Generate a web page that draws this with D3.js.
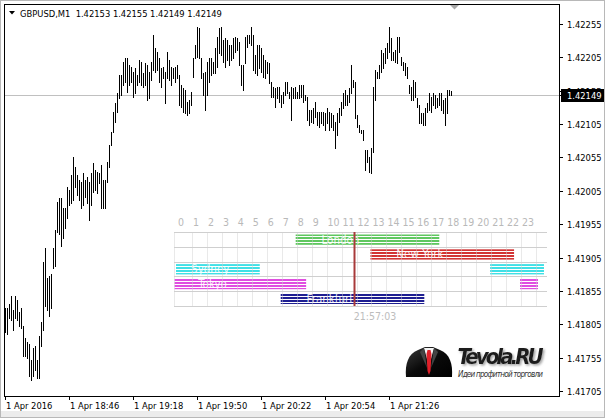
<!DOCTYPE html>
<html><head><meta charset="utf-8">
<script src="https://cdn.jsdelivr.net/npm/d3@7"></script>
<style>
html,body{margin:0;padding:0;background:#fff;}
svg{display:block;}
text{font-family:"DejaVu Sans Condensed","DejaVu Sans",sans-serif;}
</style></head><body>
<svg id="c" width="605" height="418"></svg>
<script>
// ---------------- DATA ----------------
const symbol = "GBPUSD,M1";
const lastOHLC = [1.42153, 1.42155, 1.42149, 1.42149];
const bid = 1.42149;
const highs = [
1.41829,1.41829,1.41836,1.41848,1.41826,1.41848,1.41841,1.41823,1.41829,1.41803,
1.41784,1.41778,1.41776,1.41751,1.41770,1.41773,1.41751,1.41788,1.41808,1.41898,
1.41920,1.41875,1.41878,1.41881,1.41920,1.41946,1.41988,1.41994,1.41994,1.41980,
1.41980,1.42010,1.42006,1.42028,1.42055,1.42040,1.42028,1.42021,1.42018,1.42031,
1.42021,1.42025,1.42018,1.42031,1.42046,1.42036,1.42033,1.42031,1.42043,1.42021,
1.42021,1.42048,1.42073,1.42093,1.42123,1.42136,1.42151,1.42178,1.42178,1.42198,
1.42204,1.42204,1.42193,1.42190,1.42183,1.42189,1.42178,1.42201,1.42198,1.42181,
1.42196,1.42193,1.42183,1.42198,1.42238,1.42219,1.42213,1.42204,1.42189,1.42190,
1.42183,1.42213,1.42201,1.42190,1.42189,1.42190,1.42193,1.42178,1.42163,1.42159,
1.42156,1.42138,1.42141,1.42153,1.42204,1.42223,1.42250,1.42249,1.42204,1.42181,
1.42183,1.42198,1.42204,1.42204,1.42198,1.42219,1.42235,1.42249,1.42250,1.42231,
1.42234,1.42231,1.42223,1.42223,1.42234,1.42235,1.42234,1.42228,1.42193,1.42193,
1.42235,1.42238,1.42238,1.42250,1.42238,1.42208,1.42223,1.42223,1.42219,1.42208,
1.42201,1.42198,1.42196,1.42168,1.42160,1.42159,1.42160,1.42160,1.42148,1.42153,
1.42168,1.42168,1.42153,1.42160,1.42159,1.42160,1.42153,1.42163,1.42163,1.42163,
1.42148,1.42145,1.42126,1.42126,1.42129,1.42138,1.42123,1.42123,1.42123,1.42123,
1.42121,1.42129,1.42123,1.42121,1.42118,1.42108,1.42121,1.42129,1.42138,1.42151,
1.42156,1.42148,1.42159,1.42193,1.42171,1.42168,1.42118,1.42103,1.42096,1.42096,
1.42066,1.42066,1.42055,1.42069,1.42160,1.42186,1.42183,1.42193,1.42216,1.42211,
1.42219,1.42226,1.42250,1.42234,1.42213,1.42216,1.42235,1.42235,1.42205,1.42198,
1.42196,1.42190,1.42163,1.42160,1.42171,1.42168,1.42144,1.42133,1.42121,1.42121,
1.42129,1.42136,1.42151,1.42145,1.42151,1.42148,1.42144,1.42151,1.42151,1.42141,
1.42144,1.42156,1.42156,1.42155];
const lows = [
1.41793,1.41791,1.41814,1.41811,1.41796,1.41814,1.41811,1.41803,1.41800,1.41758,
1.41758,1.41754,1.41728,1.41721,1.41728,1.41736,1.41725,1.41725,1.41773,1.41796,
1.41833,1.41826,1.41818,1.41830,1.41890,1.41893,1.41943,1.41941,1.41923,1.41935,
1.41950,1.41964,1.41983,1.41986,1.41991,1.42010,1.41998,1.41991,1.41979,1.41983,
1.41995,1.41986,1.41961,1.41983,1.42003,1.42006,1.42001,1.42016,1.41980,1.41980,
1.41979,1.42018,1.42040,1.42073,1.42093,1.42108,1.42123,1.42144,1.42148,1.42163,
1.42168,1.42153,1.42163,1.42168,1.42145,1.42151,1.42163,1.42168,1.42163,1.42160,
1.42163,1.42141,1.42144,1.42171,1.42186,1.42183,1.42186,1.42168,1.42160,1.42174,
1.42136,1.42174,1.42171,1.42163,1.42174,1.42168,1.42174,1.42133,1.42130,1.42123,
1.42121,1.42118,1.42121,1.42133,1.42175,1.42204,1.42205,1.42204,1.42174,1.42148,
1.42126,1.42148,1.42168,1.42178,1.42181,1.42181,1.42190,1.42211,1.42208,1.42198,
1.42190,1.42201,1.42193,1.42201,1.42204,1.42213,1.42216,1.42193,1.42163,1.42156,
1.42196,1.42220,1.42226,1.42223,1.42186,1.42181,1.42178,1.42189,1.42183,1.42175,
1.42174,1.42181,1.42166,1.42145,1.42145,1.42130,1.42144,1.42138,1.42130,1.42136,
1.42148,1.42151,1.42144,1.42111,1.42144,1.42144,1.42144,1.42144,1.42145,1.42138,
1.42141,1.42111,1.42103,1.42108,1.42106,1.42115,1.42103,1.42100,1.42106,1.42103,
1.42096,1.42106,1.42096,1.42100,1.42096,1.42069,1.42088,1.42108,1.42118,1.42129,
1.42133,1.42133,1.42138,1.42151,1.42160,1.42114,1.42100,1.42093,1.42091,1.42081,
1.42036,1.42048,1.42033,1.42031,1.42063,1.42141,1.42174,1.42174,1.42183,1.42189,
1.42196,1.42204,1.42213,1.42201,1.42201,1.42198,1.42196,1.42213,1.42193,1.42186,
1.42178,1.42174,1.42151,1.42141,1.42141,1.42145,1.42130,1.42106,1.42106,1.42103,
1.42103,1.42123,1.42126,1.42123,1.42133,1.42129,1.42130,1.42133,1.42126,1.42121,
1.42103,1.42121,1.42148,1.42149];
const priceTicks = [1.42255,1.42205,1.42155,1.42105,1.42055,1.42005,1.41955,1.41905,1.41855,1.41805,1.41755,1.41705];
const timeTickBars = [0,32,64,96,128,160,192];
const timeTickLabels = ["1 Apr 2016","1 Apr 18:46","1 Apr 19:18","1 Apr 19:50","1 Apr 20:22","1 Apr 20:54","1 Apr 21:26"];
const hourLabels = ["0","1","2","3","4","5","6","7","8","9","10","11","12","13","14","15","16","17","18","19","20","21","22","23"];
const sessionNames = ["London","New York","Sydney","Tokyo","Frankfurt"];
const sessionColors = ["#5fc75f","#d23434","#3fe0e6","#e04ee0","#1f1f92"];
const sessionSegments = [[[8,17.6]],[[13,22.6]],[[0,5.6],[21,24.6]],[[-0.1,8.7],[23,24.2]],[[7,16.6]]];
const nowHour = 11.9;
const clockLabel = "21:57:03";
const logoTitle = "Tevola.RU";
const logoSub = "Идеи профитной торговли";

// ---------------- LAYOUT ----------------
const svg = d3.select("#c");
const defs = svg.append("defs");
const L = 4, R = 559, T = 4, B = 396;

// window background & borders
svg.append("rect").attr("x",0).attr("y",0).attr("width",605).attr("height",418).attr("fill","#fff");
svg.append("rect").attr("x",0).attr("y",411).attr("width",605).attr("height",7).attr("fill","#ececec");
svg.append("rect").attr("x",0.5).attr("y",0.5).attr("width",604).attr("height",417).attr("fill","none").attr("stroke","#b8b8b8");

const x = d3.scaleLinear().domain([0, highs.length - 1]).range([5, 5 + 2*(highs.length - 1)]);
const y = d3.scaleLinear().domain([1.41705, 1.42255]).range([391, 24]);

// bid line
const yb = Math.round(y(bid)) + 0.5;
svg.append("line").attr("x1",L).attr("x2",R).attr("y1",yb).attr("y2",yb).attr("stroke","#c0c0c0");

// bars
svg.append("g").selectAll("line").data(highs).join("line")
  .attr("x1",(d,i)=>x(i)+0.5).attr("x2",(d,i)=>x(i)+0.5)
  .attr("y1",d=>Math.round(y(d))).attr("y2",(d,i)=>Math.round(y(lows[i]))+1)
  .attr("stroke","#000").attr("stroke-width",1).attr("shape-rendering","crispEdges");

// frame
svg.append("rect").attr("x",L+0.5).attr("y",T+0.5).attr("width",R-L).attr("height",B-T)
  .attr("fill","none").attr("stroke","#000").attr("shape-rendering","crispEdges");

// shift marker
svg.append("path").attr("d","M450,5 L459,5 L454.5,9.5 Z").attr("fill","#a8a8a8");

// right axis
const ra = svg.append("g");
priceTicks.forEach(p=>{
  const yy = Math.round(y(p))+0.5;
  ra.append("line").attr("x1",R+1).attr("x2",R+4).attr("y1",yy).attr("y2",yy).attr("stroke","#000");
  ra.append("text").attr("x",567).attr("y",yy+3.5).attr("font-size",9.3).attr("fill","#000").text(d3.format(".5f")(p));
});
// bid label
ra.append("rect").attr("x",561).attr("y",yb-6.5).attr("width",43).attr("height",13).attr("fill","#000");
ra.append("line").attr("x1",R+1).attr("x2",R+4).attr("y1",yb).attr("y2",yb).attr("stroke","#000");
ra.append("text").attr("x",567).attr("y",yb+3.5).attr("font-size",9.3).attr("fill","#fff").text(d3.format(".5f")(bid));

// bottom axis
const ba = svg.append("g");
timeTickBars.forEach((b,k)=>{
  const xx = Math.round(x(b))+0.5;
  ba.append("line").attr("x1",xx).attr("x2",xx).attr("y1",B).attr("y2",B+4).attr("stroke","#000");
  ba.append("text").attr("x",xx+0.5).attr("y",408.5).attr("font-size",9.3).attr("fill","#000").text(timeTickLabels[k]);
});

// title
svg.append("path").attr("d","M9,11 L15,11 L12,14.5 Z").attr("fill","#000");
svg.append("text").attr("x",20).attr("y",16.5).attr("font-size",9.3).attr("fill","#000")
  .attr("xml:space","preserve").text(symbol + "  " + lastOHLC.map(d3.format(".5f")).join(" "));

// ---------------- SESSIONS PANEL ----------------
const hx = d3.scaleLinear().domain([0,24]).range([176, 535]);
const rowTop = 232, rowH = 14.8;
const sp = svg.append("g");
sessionColors.forEach((c,i)=>{
  const pt = defs.append("pattern").attr("id","st"+i).attr("patternUnits","userSpaceOnUse")
    .attr("width",4).attr("height",3);
  pt.append("rect").attr("width",4).attr("height",3).attr("fill","#fff");
  pt.append("rect").attr("width",4).attr("height",2).attr("fill",c);
});
// grid
const gridL = 174, gridR = 547;
for (let r=0;r<=5;r++){
  const yy = Math.round(rowTop + r*rowH)+0.5;
  sp.append("line").attr("x1",gridL).attr("x2",gridR).attr("y1",yy).attr("y2",yy).attr("stroke","#cfcfcf");
}
const gridV = sp.append("g");
gridV.append("line").attr("x1",gridL+0.5).attr("x2",gridL+0.5).attr("y1",rowTop).attr("y2",rowTop+5*rowH).attr("stroke","#cfcfcf");
hourLabels.forEach((h,i)=>{
  const xx = Math.round(hx(i+1)+1)+0.5;
  gridV.append("line").attr("x1",xx).attr("x2",xx).attr("y1",rowTop).attr("y2",rowTop+5*rowH).attr("stroke","#cfcfcf");
  sp.append("text").attr("x",hx(i)+2).attr("y",226).attr("font-size",10.5).attr("fill","#b9b9b9").text(h);
});
// session bars
sessionSegments.forEach((segs,i)=>{
  segs.forEach(s=>{
    sp.append("rect").attr("x",hx(s[0])).attr("y",rowTop+i*rowH+2.5)
      .attr("width",hx(s[1])-hx(s[0])).attr("height",rowH-4.5)
      .attr("fill","url(#st"+i+")");
  });
  const s0 = segs[0];
  sp.append("text").attr("x",hx(s0[0]) + 0.18*(hx(s0[1])-hx(s0[0]))).attr("y",rowTop+i*rowH+11.5)
    .attr("font-size",11.5).attr("fill","#ffffff").attr("fill-opacity",0.85).text(sessionNames[i]);
});
// grid over bars (faint)
gridV.raise().attr("opacity",0.45);
// now line
const nx = Math.round(hx(nowHour))+0.5;
sp.append("line").attr("x1",nx).attr("x2",nx).attr("y1",rowTop).attr("y2",rowTop+5*rowH).attr("stroke","#a83a3a").attr("stroke-width",2);
sp.append("text").attr("x",375).attr("y",319.5).attr("text-anchor","middle").attr("font-size",10.5).attr("fill","#bdbdbd").text(clockLabel);

// ---------------- LOGO ----------------
const lg = svg.append("g");
const gr = defs.append("linearGradient").attr("id","jk").attr("x1",0).attr("y1",0).attr("x2",1).attr("y2",1);
gr.append("stop").attr("offset",0).attr("stop-color","#3a3a3a");
gr.append("stop").attr("offset",0.5).attr("stop-color","#0a0a0a");
gr.append("stop").attr("offset",1).attr("stop-color","#000");
const sh = defs.append("filter").attr("id","shd").attr("x","-10%").attr("y","-30%").attr("width","130%").attr("height","160%");
sh.append("feDropShadow").attr("dx",1.5).attr("dy",1.5).attr("stdDeviation",0.8).attr("flood-color","#888").attr("flood-opacity",0.8);
lg.append("path").attr("d","M406,377 C405,364 408,354 418,350 L425,347 L433,347 L440,350 C450,354 453,364 452,377 Z").attr("fill","url(#jk)");
lg.append("path").attr("d","M424,348 L429,366 L434,348 Z").attr("fill","#f4f4f4");
lg.append("path").attr("d","M427.5,350 L430.5,350 L431.5,354 L430.5,371 L429,375 L427.5,371 L426.5,354 Z").attr("fill","#e0202a");
lg.append("path").attr("d","M424,348 L420,352 L427,368 Z M434,348 L438,352 L431,368 Z").attr("fill","#444");
lg.append("text").attr("x",457.5).attr("y",363.5).attr("font-family","Liberation Serif, serif").attr("font-weight","bold")
  .attr("font-style","italic").attr("font-size",22).attr("fill","#1e1e1e").attr("textLength",86)
  .attr("filter","url(#shd)").text(logoTitle);
lg.append("text").attr("x",458).attr("y",376.5).attr("font-family","Liberation Serif, serif")
  .attr("font-style","italic").attr("font-size",8).attr("fill","#333").attr("textLength",85).text(logoSub);
</script>
</body></html>
